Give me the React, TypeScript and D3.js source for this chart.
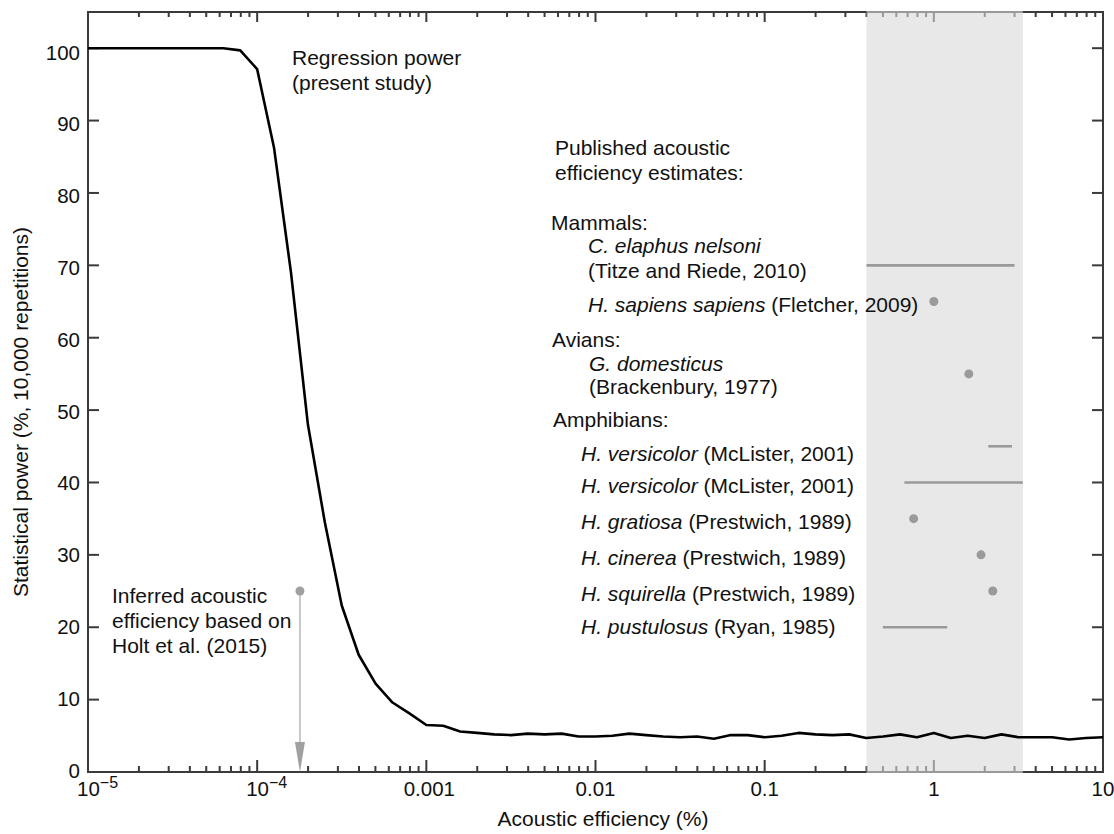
import * as d3 from "d3";
import { useEffect, useRef } from "react";

// log10 of acoustic efficiency (%) for the regression power curve
const curveExp = [
  -5, -4.9, -4.8, -4.7, -4.6, -4.5, -4.4, -4.3, -4.2, -4.1,
  -4, -3.9, -3.8, -3.7, -3.6, -3.5, -3.4, -3.3, -3.2, -3.1,
  -3, -2.9, -2.8, -2.7, -2.6, -2.5, -2.4, -2.3, -2.2, -2.1,
  -2, -1.9, -1.8, -1.7, -1.6, -1.5, -1.4, -1.3, -1.2, -1.1,
  -1, -0.9, -0.8, -0.7, -0.6, -0.5, -0.4, -0.3, -0.2, -0.1,
  0, 0.1, 0.2, 0.3, 0.4, 0.5, 0.6, 0.7, 0.8, 0.9, 1,
];
const curvePower = [
  100, 100, 100, 100, 100, 100, 100, 100, 100, 99.7,
  97.1, 86.2, 69, 48, 34.5, 23, 16.2, 12.2, 9.6, 8.1,
  6.5, 6.4, 5.6, 5.4, 5.2, 5.1, 5.3, 5.2, 5.3, 4.9,
  4.9, 5.0, 5.3, 5.1, 4.9, 4.8, 4.9, 4.6, 5.1, 5.1,
  4.8, 5.0, 5.4, 5.2, 5.1, 5.2, 4.7, 4.9, 5.2, 4.8,
  5.4, 4.7, 5.0, 4.7, 5.2, 4.8, 4.8, 4.8, 4.5, 4.7, 4.8,
];

// published estimates: points
const pointX = [1, 1.61, 0.76, 1.9, 2.23];
const pointY = [65, 55, 35, 30, 25];

// published estimates: ranges
const rangeLo = [0.4, 2.1, 0.67, 0.5];
const rangeHi = [3.0, 2.9, 3.36, 1.2];
const rangeY = [70, 45, 40, 20];

// inferred value (Holt et al. 2015)
const holtX = 1.79e-4;
const holtY = 25;

// shaded band
const bandLo = 0.4;
const bandHi = 3.36;

const xMajor = [1e-5, 1e-4, 1e-3, 1e-2, 1e-1, 1, 10];
const xLabels = [["10", "−5"], ["10", "−4"], ["0.001"], ["0.01"], ["0.1"], ["1"], ["10"]];
const yTicks = [0, 10, 20, 30, 40, 50, 60, 70, 80, 90, 100];

const FONT = "'Liberation Sans', Arial, Helvetica, sans-serif";

export default function App() {
  const ref = useRef(null);

  useEffect(() => {
    const svg = d3.select(ref.current);
    svg.selectAll("*").remove();

    const width = 1114;
    const height = 834;
    const margin = { top: 12, right: 11, bottom: 62, left: 88 };

    const x = d3
      .scaleLog()
      .domain([1e-5, 10])
      .range([margin.left, width - margin.right]);
    const y = d3
      .scaleLinear()
      .domain([0, 105])
      .range([height - margin.bottom, margin.top]);

    const x0 = margin.left;
    const x1 = width - margin.right;
    const y0 = height - margin.bottom;
    const y1 = margin.top;
    const axisColor = "#3a3a3a";

    // Frame
    svg
      .append("rect")
      .attr("x", x0)
      .attr("y", y1)
      .attr("width", x1 - x0)
      .attr("height", y0 - y1)
      .attr("fill", "none")
      .attr("stroke", axisColor)
      .attr("stroke-width", 2);

    // X ticks (bottom and top, inward)
    const xt = x.ticks();
    const isMajor = (d) => Math.abs(Math.log10(d) - Math.round(Math.log10(d))) < 1e-6;
    const gx = svg.append("g").attr("stroke", axisColor).attr("stroke-width", 2);
    gx.selectAll(".xb")
      .data(xt)
      .enter()
      .append("line")
      .attr("x1", (d) => x(d))
      .attr("x2", (d) => x(d))
      .attr("y1", y0)
      .attr("y2", (d) => y0 - (isMajor(d) ? 12 : 6));
    gx.selectAll(".xt")
      .data(xt)
      .enter()
      .append("line")
      .attr("x1", (d) => x(d))
      .attr("x2", (d) => x(d))
      .attr("y1", y1)
      .attr("y2", (d) => y1 + (isMajor(d) ? 10 : 5));

    // Y ticks (left and right, inward)
    gx.selectAll(".yl")
      .data(yTicks)
      .enter()
      .append("line")
      .attr("x1", x0)
      .attr("x2", x0 + 11)
      .attr("y1", (d) => y(d))
      .attr("y2", (d) => y(d));
    gx.selectAll(".yr")
      .data(yTicks)
      .enter()
      .append("line")
      .attr("x1", x1)
      .attr("x2", x1 - 11)
      .attr("y1", (d) => y(d))
      .attr("y2", (d) => y(d));

    // Shaded band (drawn over axes, so ticks look grey inside it)
    svg
      .append("rect")
      .attr("x", x(bandLo))
      .attr("y", y1 - 1)
      .attr("width", x(bandHi) - x(bandLo))
      .attr("height", y0 - y1 + 2)
      .attr("fill", "#d8d8d8")
      .attr("opacity", 0.6);

    // Tick labels
    svg
      .append("g")
      .selectAll("text")
      .data(yTicks)
      .enter()
      .append("text")
      .attr("x", 80)
      .attr("y", (d) => y(d) + 5.5 + 0.06 * d)
      .attr("text-anchor", "end")
      .attr("font-size", 20.5)
      .attr("font-family", FONT)
      .attr("fill", "#111")
      .text((d) => d);

    const xl = svg.append("g").attr("font-family", FONT).attr("fill", "#111");
    xMajor.forEach((v, i) => {
      const lab = xLabels[i];
      const t = xl
        .append("text")
        .attr("y", 796)
        .attr("font-size", 20.5);
      if (lab.length === 2) {
        t.attr("x", x(v) - 11).attr("text-anchor", "start");
        t.append("tspan").text(lab[0]);
        t.append("tspan").attr("font-size", 16).attr("dy", -8).text(lab[1]);
      } else {
        t.attr("x", x(v) + (i === 2 ? 3 : 0)).attr("text-anchor", "middle").text(lab[0]);
      }
    });

    // Axis titles
    svg
      .append("text")
      .attr("x", 603)
      .attr("y", 826)
      .attr("text-anchor", "middle")
      .attr("font-size", 21)
      .attr("font-family", FONT)
      .attr("fill", "#111")
      .text("Acoustic efficiency (%)");
    svg
      .append("text")
      .attr("transform", "translate(28,412) rotate(-90)")
      .attr("text-anchor", "middle")
      .attr("font-size", 21)
      .attr("font-family", FONT)
      .attr("fill", "#111")
      .text("Statistical power (%, 10,000 repetitions)");

    // Regression power curve
    const line = d3
      .line()
      .x((d) => x(Math.pow(10, d[0])))
      .y((d) => y(d[1]));
    svg
      .append("path")
      .datum(curveExp.map((e, i) => [e, curvePower[i]]))
      .attr("fill", "none")
      .attr("stroke", "#000")
      .attr("stroke-width", 2.6)
      .attr("stroke-linejoin", "round")
      .attr("d", line);

    // Published ranges
    const grey = "#9a9a9a";
    svg
      .append("g")
      .selectAll("line")
      .data(rangeY)
      .enter()
      .append("line")
      .attr("x1", (d, i) => x(rangeLo[i]))
      .attr("x2", (d, i) => x(rangeHi[i]))
      .attr("y1", (d) => y(d))
      .attr("y2", (d) => y(d))
      .attr("stroke", grey)
      .attr("stroke-width", 2.6);

    // Published points
    svg
      .append("g")
      .selectAll("circle")
      .data(pointY)
      .enter()
      .append("circle")
      .attr("cx", (d, i) => x(pointX[i]))
      .attr("cy", (d) => y(d))
      .attr("r", 4.5)
      .attr("fill", grey);

    // Holt et al. inferred value with arrow to the axis
    const hx = x(holtX);
    svg
      .append("line")
      .attr("x1", hx)
      .attr("x2", hx)
      .attr("y1", y(holtY))
      .attr("y2", y0 - 20)
      .attr("stroke", "#c8c8c8")
      .attr("stroke-width", 2);
    svg
      .append("path")
      .attr("d", `M${hx - 5},${y0 - 30}L${hx + 5},${y0 - 30}L${hx},${y0}Z`)
      .attr("fill", "#a0a0a0");
    svg
      .append("circle")
      .attr("cx", hx)
      .attr("cy", y(holtY))
      .attr("r", 4.5)
      .attr("fill", "#a0a0a0");

    // Annotations
    const notes = [
      { x: 292, y: 65, parts: [["Regression power", false]] },
      { x: 292, y: 90, parts: [["(present study)", false]] },
      { x: 555, y: 155, parts: [["Published acoustic", false]] },
      { x: 555, y: 180, parts: [["efficiency estimates:", false]] },
      { x: 551, y: 230, parts: [["Mammals:", false]] },
      { x: 588, y: 253, parts: [["C. elaphus nelsoni", true]] },
      { x: 588, y: 278, parts: [["(Titze and Riede, 2010)", false]] },
      { x: 588, y: 312, parts: [["H. sapiens sapiens", true], [" (Fletcher, 2009)", false]] },
      { x: 552, y: 347, parts: [["Avians:", false]] },
      { x: 589, y: 371, parts: [["G. domesticus", true]] },
      { x: 589, y: 394, parts: [["(Brackenbury, 1977)", false]] },
      { x: 553, y: 427, parts: [["Amphibians:", false]] },
      { x: 581, y: 461, parts: [["H. versicolor", true], [" (McLister, 2001)", false]] },
      { x: 581, y: 493, parts: [["H. versicolor", true], [" (McLister, 2001)", false]] },
      { x: 581, y: 529, parts: [["H. gratiosa", true], [" (Prestwich, 1989)", false]] },
      { x: 581, y: 565, parts: [["H. cinerea", true], [" (Prestwich, 1989)", false]] },
      { x: 581, y: 601, parts: [["H. squirella", true], [" (Prestwich, 1989)", false]] },
      { x: 581, y: 634, parts: [["H. pustulosus", true], [" (Ryan, 1985)", false]] },
      { x: 112, y: 603, parts: [["Inferred acoustic", false]] },
      { x: 112, y: 628, parts: [["efficiency based on", false]] },
      { x: 112, y: 653, parts: [["Holt et al. (2015)", false]] },
    ];
    const ng = svg.append("g").attr("font-family", FONT).attr("font-size", 21).attr("fill", "#111");
    notes.forEach((n) => {
      const t = ng.append("text").attr("x", n.x).attr("y", n.y).attr("xml:space", "preserve");
      n.parts.forEach(([s, it]) => {
        t.append("tspan")
          .attr("font-style", it ? "italic" : "normal")
          .text(s);
      });
    });
  }, []);

  return (
    <svg
      ref={ref}
      width={1114}
      height={834}
      style={{ position: "absolute", left: 0, top: 0, background: "#fff" }}
    />
  );
}
